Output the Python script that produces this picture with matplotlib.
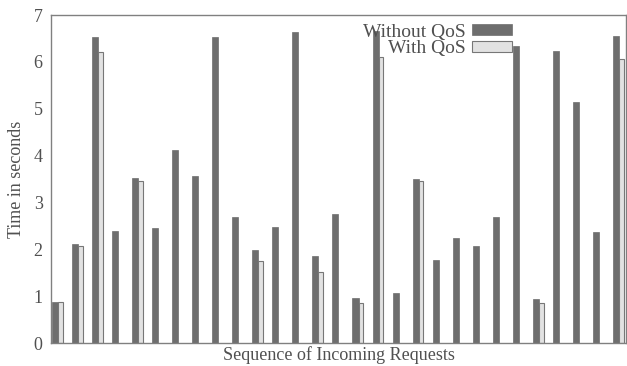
import matplotlib
matplotlib.use("Agg")
import matplotlib.pyplot as plt
import numpy as np

without_qos = [0.88, 2.11, 6.52, 2.38, 3.52, 2.46, 4.11, 3.56, 6.54, 2.69,
               1.99, 2.48, 6.64, 1.86, 2.75, 0.95, 6.66, 1.07, 3.51, 1.77,
               2.24, 2.06, 2.68, 6.34, 0.93, 6.24, 5.14, 2.36, 6.56]
nan = np.nan
with_qos = [0.88, 2.08, 6.20, nan, 3.46, nan, nan, nan, nan, nan,
            1.74, nan, nan, 1.52, nan, 0.86, 6.11, nan, 3.45, nan,
            nan, nan, nan, nan, 0.86, nan, nan, nan, 6.07]
y_ticks = [0, 1, 2, 3, 4, 5, 6, 7]

plt.rcParams['font.family'] = ['Liberation Serif', 'DejaVu Serif']
txt = '#505050'
W, H = 627, 366
fig = plt.figure(figsize=(W / 100, H / 100), dpi=100)
ax = fig.add_axes([51 / W, (H - 343) / H, (626 - 51) / W, (343 - 15) / H])

x = np.arange(len(without_qos))
wd, wl = 0.30, 0.24
ax.bar(x, without_qos, width=wd, align='edge', color='#6e6e6e',
       edgecolor='#6e6e6e', linewidth=0.5, label='Without QoS')
ax.bar(x + wd, with_qos, width=wl, align='edge', color='#e2e2e2',
       edgecolor='#777777', linewidth=0.8, label='With QoS')

ax.set_xlim(-0.035, 28.64)
ax.set_ylim(0, 7)
ax.set_yticks(y_ticks)
ax.set_yticklabels([str(t) for t in y_ticks], fontsize=13, color=txt)
ax.set_xticks([])
ax.tick_params(axis='y', length=0, pad=6)
for s in ax.spines.values():
    s.set_color('#808080')
    s.set_linewidth(1.0)
ax.set_ylabel('Time in seconds', fontsize=13, color=txt, labelpad=6)
ax.set_xlabel('Sequence of Incoming Requests', fontsize=13, color=txt, labelpad=2)

leg = ax.legend(loc='upper right', bbox_to_anchor=((512 - 51) / 575, (343 - 23.5) / 328),
                frameon=False, markerfirst=False, fontsize=14,
                handlelength=2.05, handleheight=0.45, handletextpad=0.35,
                labelspacing=0.0, borderaxespad=0, borderpad=0)
for t in leg.get_texts():
    t.set_color(txt)

fig.savefig('out.png', dpi=100)
